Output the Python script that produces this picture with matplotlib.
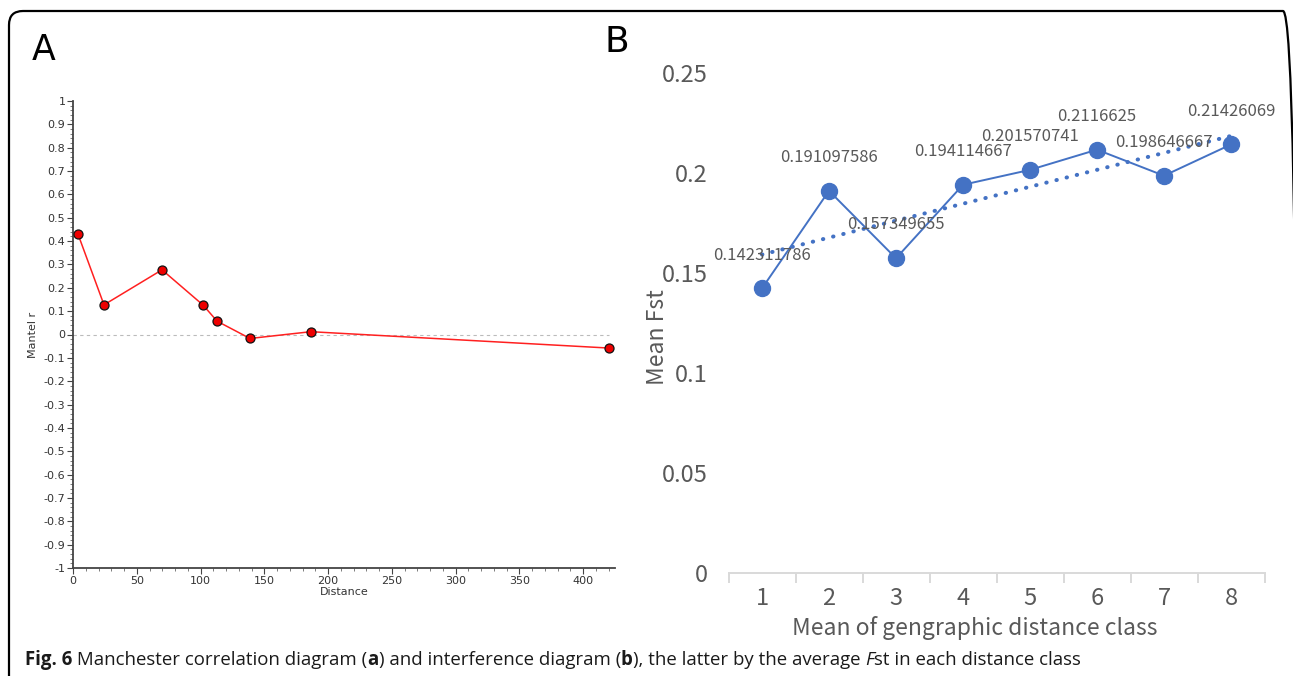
import numpy as np
import matplotlib
matplotlib.use("Agg")
import matplotlib.pyplot as plt
from matplotlib.patches import FancyBboxPatch
from matplotlib.ticker import MultipleLocator

# panel A: Mantel correlogram
dist = [3.9, 24.3, 69.8, 102.0, 113.0, 138.8, 186.5, 420.0]
mantel_r = [0.43, 0.127, 0.277, 0.126, 0.057, -0.017, 0.012, -0.058]
a_yticks = [-1, -0.9, -0.8, -0.7, -0.6, -0.5, -0.4, -0.3, -0.2, -0.1, 0,
            0.1, 0.2, 0.3, 0.4, 0.5, 0.6, 0.7, 0.8, 0.9, 1]

# panel B: mean Fst per distance class
dist_class = [1, 2, 3, 4, 5, 6, 7, 8]
mean_fst = [0.142311786, 0.191097586, 0.157349655, 0.194114667,
            0.201570741, 0.2116625, 0.198646667, 0.21426069]
fst_labels = ["0.142311786", "0.191097586", "0.157349655", "0.194114667",
              "0.201570741", "0.2116625", "0.198646667", "0.21426069"]
b_yticks = [0, 0.05, 0.1, 0.15, 0.2, 0.25]
b_yticklabels = ["0", "0.05", "0.1", "0.15", "0.2", "0.25"]

W, H = 1293, 676
fig = plt.figure(figsize=(W / 100, H / 100), dpi=100)

def px_axes(l, t, r, b):
    return fig.add_axes([l / W, 1 - b / H, (r - l) / W, (b - t) / H])

# ---- panel A
axA = px_axes(73, 101, 615, 568)
axA.plot(dist, mantel_r, color="#ff2020", lw=1.1, zorder=3)
axA.plot(dist, mantel_r, "o", ms=6.5, mfc="#ee0000", mec="#111111", mew=0.9, zorder=4)
axA.plot([0, 420], [0, 0], ls=(0, (3, 3)), color="#bbbbbb", lw=0.8, zorder=1)
axA.set_xlim(0, 425)
axA.set_ylim(-1, 1)
axA.set_yticks(a_yticks)
axA.set_yticklabels(["%g" % v for v in a_yticks])
axA.yaxis.set_minor_locator(MultipleLocator(0.02))
axA.xaxis.set_major_locator(MultipleLocator(50))
axA.xaxis.set_minor_locator(MultipleLocator(10))
axA.spines["top"].set_visible(False)
axA.spines["right"].set_visible(False)
for s in ("left", "bottom"):
    axA.spines[s].set_color("#444444")
    axA.spines[s].set_linewidth(1.3)
axA.tick_params(which="major", length=4, width=0.8, color="#444444", labelsize=8,
                labelcolor="#333333", pad=1.5)
axA.tick_params(which="minor", length=2, width=0.6, color="#666666")
axA.set_xlabel("Distance", fontsize=8, labelpad=1, color="#333333")
axA.set_ylabel("Mantel r", fontsize=8, labelpad=4, color="#333333")

# ---- panel B
blue = "#4472C4"
gray = "#595959"
bfont = ["Noto Sans CJK SC", "DejaVu Sans"]
axB = px_axes(728.5, 73, 1264.5, 573)
axB.plot(dist_class, mean_fst, color=blue, lw=1.4, zorder=3)
axB.plot(dist_class, mean_fst, "o", ms=11.5, color=blue, zorder=4)
k, c = np.polyfit(dist_class, mean_fst, 1)
tx = np.array([dist_class[0], dist_class[-1]])
axB.plot(tx, k * tx + c, ls=(0, (0.1, 2.5)), dash_capstyle="round",
         color=blue, lw=2.9, zorder=2)
for x, y, s in zip(dist_class, mean_fst, fst_labels):
    axB.annotate(s, (x, y), xytext=(0, 24), textcoords="offset points",
                 ha="center", va="center", fontsize=12, color=gray,
                 family=bfont, zorder=5)
axB.set_xlim(0.5, 8.5)
axB.set_ylim(0, 0.25)
axB.set_yticks(b_yticks)
axB.set_yticklabels(b_yticklabels, family=bfont)
axB.set_xticks(dist_class)
axB.set_xticklabels([str(v) for v in dist_class], family=bfont)
axB.set_xticks(np.arange(0.5, 8.6, 1), minor=True)
for s in ("top", "right", "left"):
    axB.spines[s].set_visible(False)
axB.spines["bottom"].set_color("#d9d9d9")
axB.spines["bottom"].set_linewidth(1.4)
axB.tick_params(axis="y", length=0, labelsize=17, labelcolor=gray, pad=15)
axB.tick_params(axis="x", which="major", length=0, labelsize=17,
                labelcolor=gray, pad=10)
axB.tick_params(axis="x", which="minor", length=7, width=1.4, color="#d9d9d9")
fig.text(975 / W, 1 - 628 / H, "Mean of gengraphic distance class", fontsize=16.5,
         color=gray, ha="center", va="center", family=bfont)
fig.text(657 / W, 1 - 337 / H, "Mean Fst", fontsize=16.5, color=gray,
         ha="center", va="center", rotation=90, family=bfont)

# panel letters
lfont = ["Liberation Sans Narrow", "DejaVu Sans"]
fig.text(44 / W, 1 - 50 / H, "A", fontsize=25, ha="center", va="center", family=lfont)
fig.text(617 / W, 1 - 42 / H, "B", fontsize=26, ha="center", va="center", family=lfont)

# outer rounded frame (right and bottom edges fall outside the picture)
frame = FancyBboxPatch((9, -40), 1288, H - 11 + 40,
                       boxstyle="round,pad=0,rounding_size=14",
                       transform=None, fill=False, ec="black", lw=1.6)
fig.patches.append(frame)

# caption
pieces = [("Fig. 6", "bold", "normal"),
          (" Manchester correlation diagram (", "normal", "normal"),
          ("a", "bold", "normal"),
          (") and interference diagram (", "normal", "normal"),
          ("b", "bold", "normal"),
          ("), the latter by the average ", "normal", "normal"),
          ("F", "normal", "italic"),
          ("st in each distance class", "normal", "normal")]
fig.canvas.draw()
r = fig.canvas.get_renderer()
xpos = 25
for s, wgt, sty in pieces:
    t = fig.text(xpos / W, 1 - 660 / H, s, fontsize=13.4, family="Open Sans",
                 weight=wgt, style=sty, ha="left", va="center", color="#1a1a1a")
    bb = t.get_window_extent(renderer=r)
    xpos = bb.x1

fig.savefig("out.png", dpi=100)
